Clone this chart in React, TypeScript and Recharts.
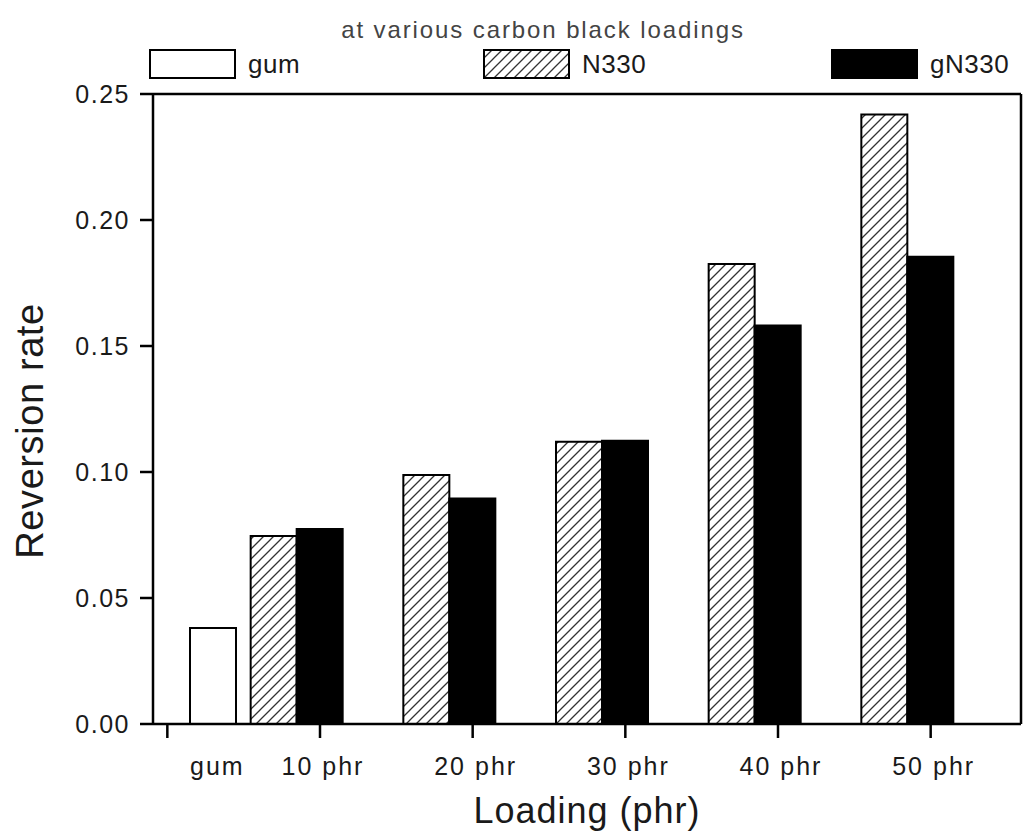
import React from 'react';
import { BarChart, Bar, XAxis, YAxis, Legend } from 'recharts';

const categories = ['gum', '10 phr', '20 phr', '30 phr', '40 phr', '50 phr'];
const gumValues = [0.0381, null, null, null, null, null];
const n330Values = [null, 0.0746, 0.0988, 0.112, 0.1825, 0.2419];
const gn330Values = [null, 0.0774, 0.0895, 0.1124, 0.1581, 0.1854];
const yTicks = [0, 0.05, 0.1, 0.15, 0.2, 0.25];
const legendOrder = ['gum', 'N330', 'gN330'];

const data = categories.map((c, i) => ({
  loading: c,
  gum: gumValues[i],
  N330: n330Values[i],
  gN330: gn330Values[i],
}));

const FONT = '"Liberation Sans", Arial, Helvetica, sans-serif';
const INK = '#1a1a1a';
const GUM_LABEL_SHIFT = 50;

const XTick = (props: any) => {
  const { x, y, payload } = props;
  const shift = payload.value === 'gum' ? GUM_LABEL_SHIFT : 3;
  return (
    <text
      x={x + shift}
      y={y}
      dy="0.71em"
      textAnchor="middle"
      fontFamily={FONT}
      fontSize={25}
      letterSpacing={2}
      fill={INK}
    >
      {payload.value}
    </text>
  );
};

const YLabel = (props: any) => {
  const { viewBox } = props;
  const cx = viewBox.x + 30;
  const cy = viewBox.y + viewBox.height / 2 + 22;
  return (
    <text
      x={cx}
      y={cy}
      textAnchor="middle"
      dominantBaseline="central"
      transform={`rotate(-90, ${cx}, ${cy})`}
      fontFamily={FONT}
      fontSize={38}
      letterSpacing={0.6}
      fill={INK}
    >
      Reversion rate
    </text>
  );
};

const XLabel = (props: any) => {
  const { viewBox } = props;
  return (
    <text
      x={viewBox.x + viewBox.width / 2}
      y={viewBox.y + 99}
      textAnchor="middle"
      fontFamily={FONT}
      fontSize={36}
      letterSpacing={1}
      fill={INK}
    >
      Loading (phr)
    </text>
  );
};

const renderLegend = (props: any) => {
  const items = [...(props.payload || [])].sort(
    (a: any, b: any) => legendOrder.indexOf(a.dataKey) - legendOrder.indexOf(b.dataKey)
  );
  const widths = [334, 348, 190];
  return (
    <div style={{ display: 'flex', fontFamily: FONT }}>
      {items.map((entry: any, i: number) => (
        <div key={entry.dataKey} style={{ display: 'flex', alignItems: 'center', width: widths[i] }}>
          <svg width={87} height={30} style={{ display: 'block' }}>
            <rect x={1} y={1} width={85} height={28} fill={entry.color} stroke="#000" strokeWidth={2} />
          </svg>
          <span style={{ marginLeft: 12, fontSize: 26, letterSpacing: 0.5, color: INK, lineHeight: '30px' }}>
            {entry.value}
          </span>
        </div>
      ))}
    </div>
  );
};

export default function App() {
  return (
    <div style={{ position: 'absolute', left: 0, top: 0, width: 1025, height: 832, background: '#fff' }}>
      <div
        style={{
          position: 'absolute',
          left: 0,
          top: 16,
          width: 1086,
          textAlign: 'center',
          fontFamily: FONT,
          fontSize: 24,
          letterSpacing: 1.9,
          color: '#444',
          zIndex: 2,
        }}
      >
        at various carbon black loadings
      </div>
      <BarChart
        width={1025}
        height={832}
        data={data}
        margin={{ top: 92, right: 0, bottom: 0, left: 0 }}
        barGap={0}
        barSize={46}
      >
        <defs>
          <pattern id="hatch" patternUnits="userSpaceOnUse" width="10" height="10">
            <rect width="10" height="10" fill="#fff" />
            <path d="M-2,2 L2,-2 M0,10 L10,0 M8,12 L12,8" stroke="#333" strokeWidth="1.3" />
          </pattern>
        </defs>
        <XAxis
          xAxisId="top"
          orientation="top"
          dataKey="loading"
          height={2}
          tick={false}
          tickLine={false}
          axisLine={{ stroke: '#000', strokeWidth: 2.5 }}
        />
        <XAxis
          xAxisId="main"
          dataKey="loading"
          height={108}
          interval={0}
          padding={{ left: -62, right: 14 }}
          tickSize={14}
          tickMargin={19}
          tick={<XTick />}
          tickLine={{ stroke: '#000', strokeWidth: 2.5 }}
          axisLine={{ stroke: '#000', strokeWidth: 2.5 }}
          label={XLabel}
        />
        <YAxis
          yAxisId="left"
          width={153}
          domain={[0, 0.25]}
          ticks={yTicks}
          tickFormatter={(v: number) => v.toFixed(2)}
          tickSize={13}
          tickMargin={10}
          tick={{ fontFamily: FONT, fontSize: 25, fill: INK, letterSpacing: 1.5 }}
          tickLine={{ stroke: '#000', strokeWidth: 2.5 }}
          axisLine={{ stroke: '#000', strokeWidth: 2.5 }}
          label={YLabel}
        />
        <YAxis
          yAxisId="right"
          orientation="right"
          width={4}
          domain={[0, 0.25]}
          tick={false}
          tickLine={false}
          axisLine={{ stroke: '#000', strokeWidth: 2.5 }}
        />
        <Legend
          layout="horizontal"
          verticalAlign="middle"
          align="center"
          wrapperStyle={{ top: 49, left: 149, width: 876 }}
          content={renderLegend}
        />
        <Bar
          xAxisId="main"
          yAxisId="left"
          dataKey="N330"
          name="N330"
          fill="url(#hatch)"
          stroke="#000"
          strokeWidth={2}
          isAnimationActive={false}
        />
        <Bar
          xAxisId="main"
          yAxisId="left"
          dataKey="gN330"
          name="gN330"
          fill="#000"
          stroke="#000"
          strokeWidth={2}
          isAnimationActive={false}
        />
        <Bar
          xAxisId="main"
          yAxisId="left"
          dataKey="gum"
          name="gum"
          fill="#fff"
          stroke="#000"
          strokeWidth={2}
          isAnimationActive={false}
        />
      </BarChart>
    </div>
  );
}
